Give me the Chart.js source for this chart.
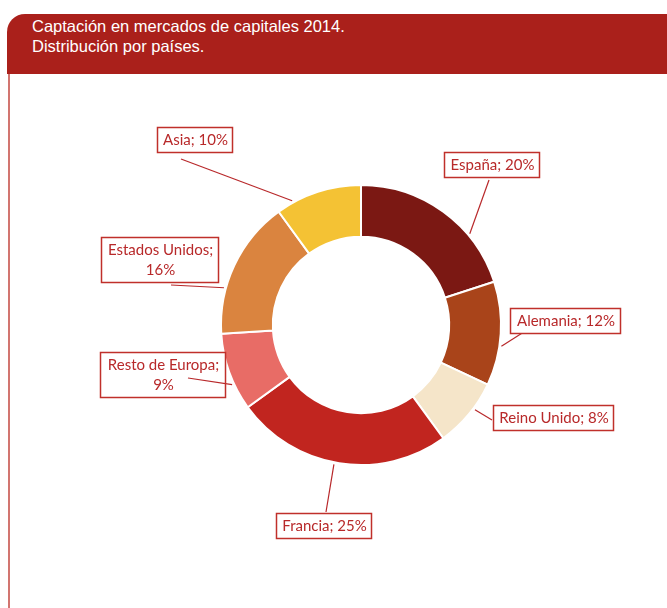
<!DOCTYPE html>
<html>
<head>
<meta charset="utf-8">
<script src="https://cdn.jsdelivr.net/npm/chart.js@4"></script>
<style>
  body { margin: 0; background: #fff; }
  #page { position: relative; width: 667px; height: 608px; overflow: hidden; }
  #head {
    position: absolute; left: 7px; top: 14px; width: 660px; height: 60px;
    background: #AA201B; border-top-left-radius: 18px;
    color: #fff; font: 16.5px "Liberation Sans", Arial, sans-serif; line-height: 20px;
    box-sizing: border-box; padding: 2px 0 0 25px;
  }
  #rule { position: absolute; left: 8px; top: 74px; width: 2px; height: 534px; background: #D27570; }
  #chart { position: absolute; left: 0; top: 0; }
</style>
</head>
<body>
<div id="page">
  <div id="head">Captación en mercados de capitales 2014.<br>Distribución por países.</div>
  <div id="rule"></div>
  <canvas id="chart" width="667" height="608"></canvas>
</div>
<script>
// Data
const countries = ['España', 'Alemania', 'Reino Unido', 'Francia', 'Resto de Europa', 'Estados Unidos', 'Asia'];
const shares = [20, 12, 8, 25, 9, 16, 10];
const sliceColors = ['#7B1813', '#A9441A', '#F5E5C9', '#C1251F', '#E86C66', '#DA843F', '#F4C234'];

// Label box layout, offsets from the donut centre (left, top, width, height, text lines,
// point on box where the leader starts, and angle nudge for where it hits the ring)
const labelLayout = [
  { x: 83,   y: -173, w: 95,  h: 25, lines: ['España; 20%'],              lx: 128,  ly: -145, nudge: 14 },
  { x: 149,  y: -17,  w: 110, h: 25, lines: ['Alemania; 12%'],            lx: 166,  ly: 5,    nudge: 5 },
  { x: 132,  y: 80,   w: 120, h: 25, lines: ['Reino Unido; 8%'],          lx: 131,  ly: 95,   nudge: -3 },
  { x: -85,  y: 188,  w: 95,  h: 25, lines: ['Francia; 25%'],             lx: -35,  ly: 187,  nudge: 2 },
  { x: -261, y: 27,   w: 125, h: 45, lines: ['Resto de Europa;', '9%'],   lx: -173, ly: 53,   nudge: -5 },
  { x: -260, y: -88,  w: 117, h: 45, lines: ['Estados Unidos;', '16%'],   lx: -190, ly: -40,  nudge: -10 },
  { x: -204, y: -198, w: 75,  h: 25, lines: ['Asia; 10%'],                lx: -180, ly: -166, nudge: -11 }
];

const calloutPlugin = {
  id: 'callouts',
  afterDatasetsDraw(chart) {
    const ctx = chart.ctx;
    const arcs = chart.getDatasetMeta(0).data;
    ctx.save();
    ctx.font = '15px Lato, "Open Sans", sans-serif';
    ctx.textAlign = 'center';
    ctx.textBaseline = 'middle';
    arcs.forEach((arc, i) => {
      const L = labelLayout[i];
      const cx = arc.x, cy = arc.y;
      const mid = (arc.startAngle + arc.endAngle) / 2 + L.nudge * Math.PI / 180;
      const r = arc.outerRadius + 2;
      // leader line
      ctx.strokeStyle = '#B8282A';
      ctx.lineWidth = 1.2;
      ctx.beginPath();
      ctx.moveTo(cx + L.lx, cy + L.ly);
      ctx.lineTo(cx + Math.cos(mid) * r, cy + Math.sin(mid) * r);
      ctx.stroke();
      // box
      ctx.fillStyle = '#fff';
      const bx = cx + L.x, by = cy + L.y;
      if (L.lines.length === 1) ctx.fillRect(bx, by, L.w, L.h);
      ctx.strokeStyle = '#C0302B';
      ctx.lineWidth = 1.5;
      ctx.strokeRect(bx + 0.5, by + 0.5, L.w, L.h);
      ctx.fillStyle = '#B8292A';
      const lh = 20;
      const y0 = by + L.h / 2 - (L.lines.length - 1) * lh / 2 + 1;
      L.lines.forEach((t, k) => ctx.fillText(t, bx + L.w / 2 + 1, y0 + k * lh));
    });
    ctx.restore();
  }
};

new Chart(document.getElementById('chart').getContext('2d'), {
  type: 'doughnut',
  data: {
    labels: countries,
    datasets: [{
      data: shares,
      backgroundColor: sliceColors,
      borderColor: '#ffffff',
      borderWidth: 2
    }]
  },
  options: {
    responsive: false,
    animation: false,
    radius: 140,
    cutout: '63%',
    layout: { padding: { left: 55, top: 42, right: 0, bottom: 0 } },
    plugins: { legend: { display: false }, tooltip: { enabled: false } }
  },
  plugins: [calloutPlugin]
});
</script>
</body>
</html>
